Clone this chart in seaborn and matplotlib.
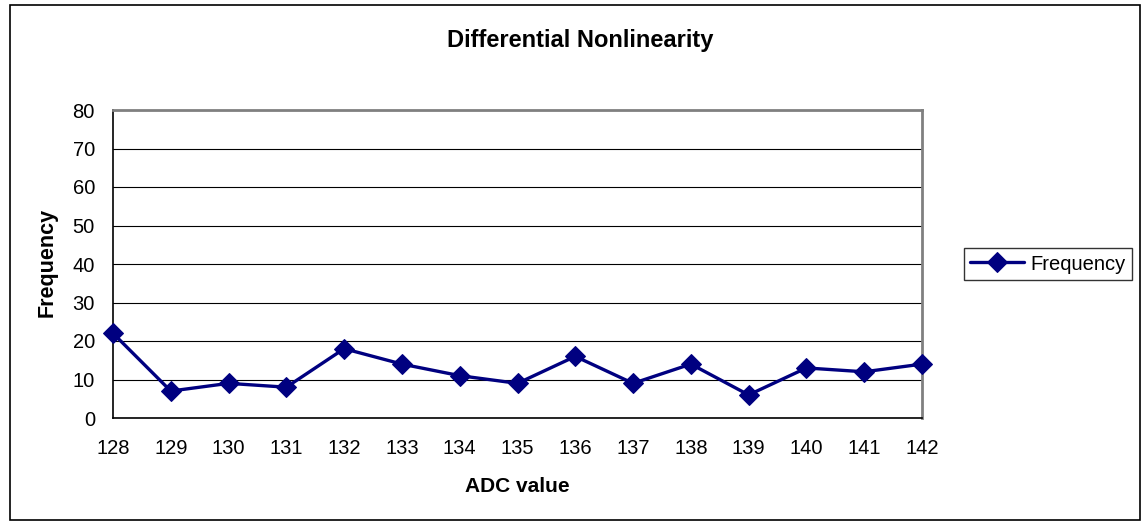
import matplotlib
matplotlib.use("Agg")
import matplotlib.pyplot as plt
import seaborn as sns
import pandas as pd
from matplotlib.patches import Rectangle

adc_values = [128, 129, 130, 131, 132, 133, 134, 135, 136, 137, 138, 139, 140, 141, 142]
frequency = [22, 7, 9, 8, 18, 14, 11, 9, 16, 9, 14, 6, 13, 12, 14]
y_ticks = [0, 10, 20, 30, 40, 50, 60, 70, 80]

df = pd.DataFrame({"ADC value": adc_values, "Frequency": frequency})

sns.set_style("white")
plt.rcParams['font.family'] = ['Liberation Sans', 'DejaVu Sans']
plt.rcParams['text.color'] = 'black'
plt.rcParams['axes.labelcolor'] = 'black'

fig = plt.figure(figsize=(11.43, 5.24), dpi=100)
ax = fig.add_axes([113/1143, 1-418/524, (922-113)/1143, (418-110)/524])

sns.lineplot(data=df, x="ADC value", y="Frequency", ax=ax, color="#000080",
             marker="D", markersize=10, linewidth=2.4, markeredgecolor="#000080",
             label="Frequency", legend=False)
for ln in ax.get_lines():
    ln.set_clip_on(False)
    ln.set_zorder(5)

ax.set_xlim(adc_values[0], adc_values[-1])
ax.set_ylim(0, 80)
ax.set_yticks(y_ticks)
ax.set_xticks(adc_values)
ax.set_xticklabels([str(v) for v in adc_values])
ax.tick_params(axis='both', labelsize=14.5, colors='black', labelcolor='black',
               direction='out', length=6, width=1)
ax.tick_params(axis='x', pad=9)
ax.tick_params(axis='y', pad=7)
ax.grid(axis='y', color='black', linewidth=0.8)
ax.set_axisbelow(True)
for s in ['top', 'right']:
    ax.spines[s].set_color('#808080')
    ax.spines[s].set_linewidth(2)
for s in ['left', 'bottom']:
    ax.spines[s].set_color('black')
    ax.spines[s].set_linewidth(1.2)

ax.set_xlabel("")
ax.set_ylabel("")
fig.text(517/1143, 1-487/524, "ADC value", ha='center', va='center',
         fontsize=15, fontweight='bold')
fig.text(47/1143, 1-262/524, "Frequency", ha='center', va='center', rotation=90,
         fontsize=15.5, fontweight='bold')
fig.text(580/1143, 1-40/524, "Differential Nonlinearity", ha='center', va='center',
         fontsize=17, fontweight='bold')

leg = fig.legend(handles=ax.get_lines()[:1], labels=["Frequency"], loc='center left',
                 bbox_to_anchor=(964/1143, 1-264/524), fontsize=14.5, frameon=True,
                 fancybox=False, edgecolor='black', handlelength=2.7, handletextpad=0.3,
                 borderpad=0.3, borderaxespad=0)
leg.get_frame().set_linewidth(1)
for t in leg.get_texts():
    t.set_color('black')

fig.patches.append(Rectangle((10/1143, 4/524), 1130/1143, 515/524, transform=fig.transFigure,
                             fill=False, edgecolor='black', linewidth=1.2))

fig.savefig("out.png", dpi=100)
